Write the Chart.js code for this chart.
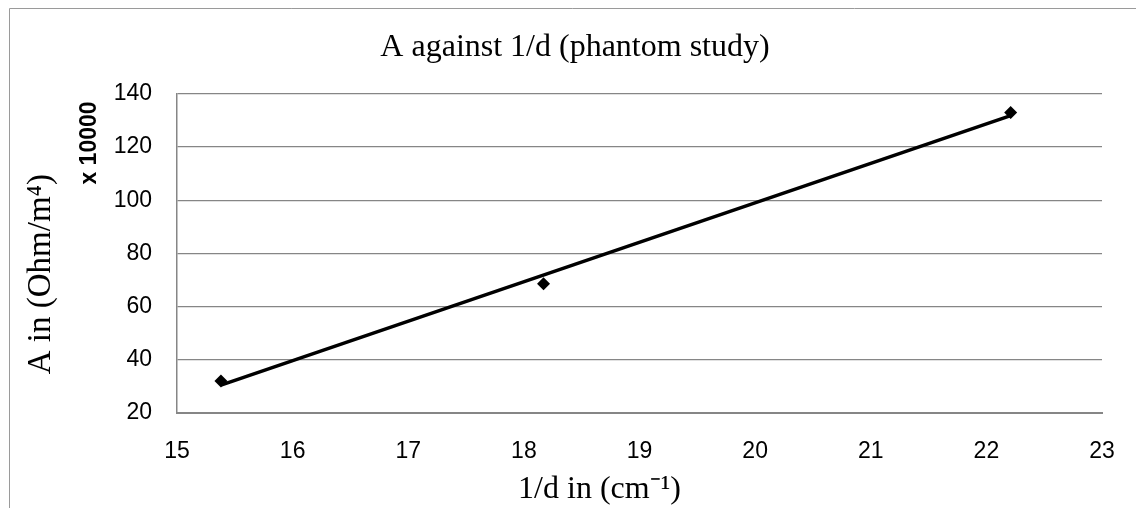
<!DOCTYPE html>
<html>
<head>
<meta charset="utf-8">
<script src="https://cdn.jsdelivr.net/npm/chart.js@4"></script>
<style>
  html, body { margin: 0; padding: 0; background: #fff; }
  canvas { display: block; }
</style>
</head>
<body>
<canvas id="myChart" width="1136" height="508"></canvas>
<script>
// measured points (1/d in cm^-1, A in Ohm/m^4 x 10000)
const invD = [15.38, 18.17, 22.21];
const aValues = [32.0, 68.6, 133.0];

// linear trendline ends
const trendX = [15.38, 22.21];
const trendY = [30.5, 131.8];

const xMin = 15, xMax = 23, xStep = 1;
const yMin = 20, yMax = 140, yStep = 20;

const titleText = "A against 1/d (phantom study)";
// trailing spaces push the axis titles off-centre like in the original
const xTitle = "1/d in (cm\u207B\u00B9)" + " ".repeat(10);
const yTitle = "A in (Ohm/m\u2074)" + " ".repeat(5);
const multiplier = "x 10000";

const gridGray = "#868686";
const serif = "'Liberation Serif', 'Times New Roman', serif";
const sans = "'Liberation Sans', Arial, sans-serif";

// outer frame (only left and top edges are visible) and the "x 10000" note
const extras = {
  id: "extras",
  afterDraw(chart) {
    const c = chart.ctx;
    c.save();
    c.strokeStyle = "#9a9a9a";
    c.lineWidth = 1;
    c.beginPath();
    c.moveTo(9.5, 508);
    c.lineTo(9.5, 8.5);
    c.lineTo(1136, 8.5);
    c.stroke();

    c.translate(90, 143);
    c.rotate(-Math.PI / 2);
    c.font = "bold 23px " + sans;
    c.fillStyle = "#000";
    c.textAlign = "center";
    c.textBaseline = "middle";
    c.fillText(multiplier, 0, 0);
    c.restore();
  }
};

const ctx = document.getElementById("myChart").getContext("2d");

new Chart(ctx, {
  type: "scatter",
  data: {
    datasets: [
      {
        label: "A",
        data: invD.map((x, i) => ({ x: x, y: aValues[i] })),
        pointStyle: "rectRot",
        pointRadius: 6.5,
        backgroundColor: "#000",
        borderColor: "#000",
        borderWidth: 0,
        order: 1,
      },
      {
        label: "Linear fit",
        type: "line",
        data: trendX.map((x, i) => ({ x: x, y: trendY[i] })),
        borderColor: "#000",
        borderWidth: 3.5,
        pointRadius: 0,
        fill: false,
        order: 2,
      },
    ],
  },
  options: {
    responsive: false,
    animation: false,
    layout: { padding: { left: 48, right: 34, top: 0, bottom: 0 } },
    plugins: {
      legend: { display: false },
      tooltip: { enabled: false },
      title: {
        display: true,
        text: titleText,
        color: "#000",
        font: { family: serif, size: 32, weight: "normal" },
        padding: { top: 28, bottom: 27.5 },
      },
    },
    scales: {
      x: {
        type: "linear",
        min: xMin,
        max: xMax,
        afterFit(scale) {
          scale.height = 95;
          scale.paddingLeft = 0;
          scale.paddingRight = 0;
        },
        ticks: {
          stepSize: xStep,
          color: "#000",
          padding: 25,
          font: { family: sans, size: 23 },
        },
        grid: { display: false, drawTicks: false },
        border: { display: true, color: gridGray, width: 2 },
        title: {
          display: true,
          text: xTitle,
          color: "#000",
          font: { family: serif, size: 32 },
          padding: { top: 0, bottom: -1 },
        },
      },
      y: {
        min: yMin,
        max: yMax,
        afterFit(scale) { scale.width = 129; },
        ticks: {
          stepSize: yStep,
          color: "#000",
          padding: 25,
          font: { family: sans, size: 23 },
        },
        grid: { color: gridGray, lineWidth: 1.2, drawTicks: false },
        border: { display: true, color: gridGray, width: 1.5 },
        title: {
          display: true,
          text: yTitle,
          color: "#000",
          font: { family: serif, size: 33 },
          padding: { top: -26, bottom: 0 },
        },
      },
    },
  },
  plugins: [extras],
});
</script>
</body>
</html>
